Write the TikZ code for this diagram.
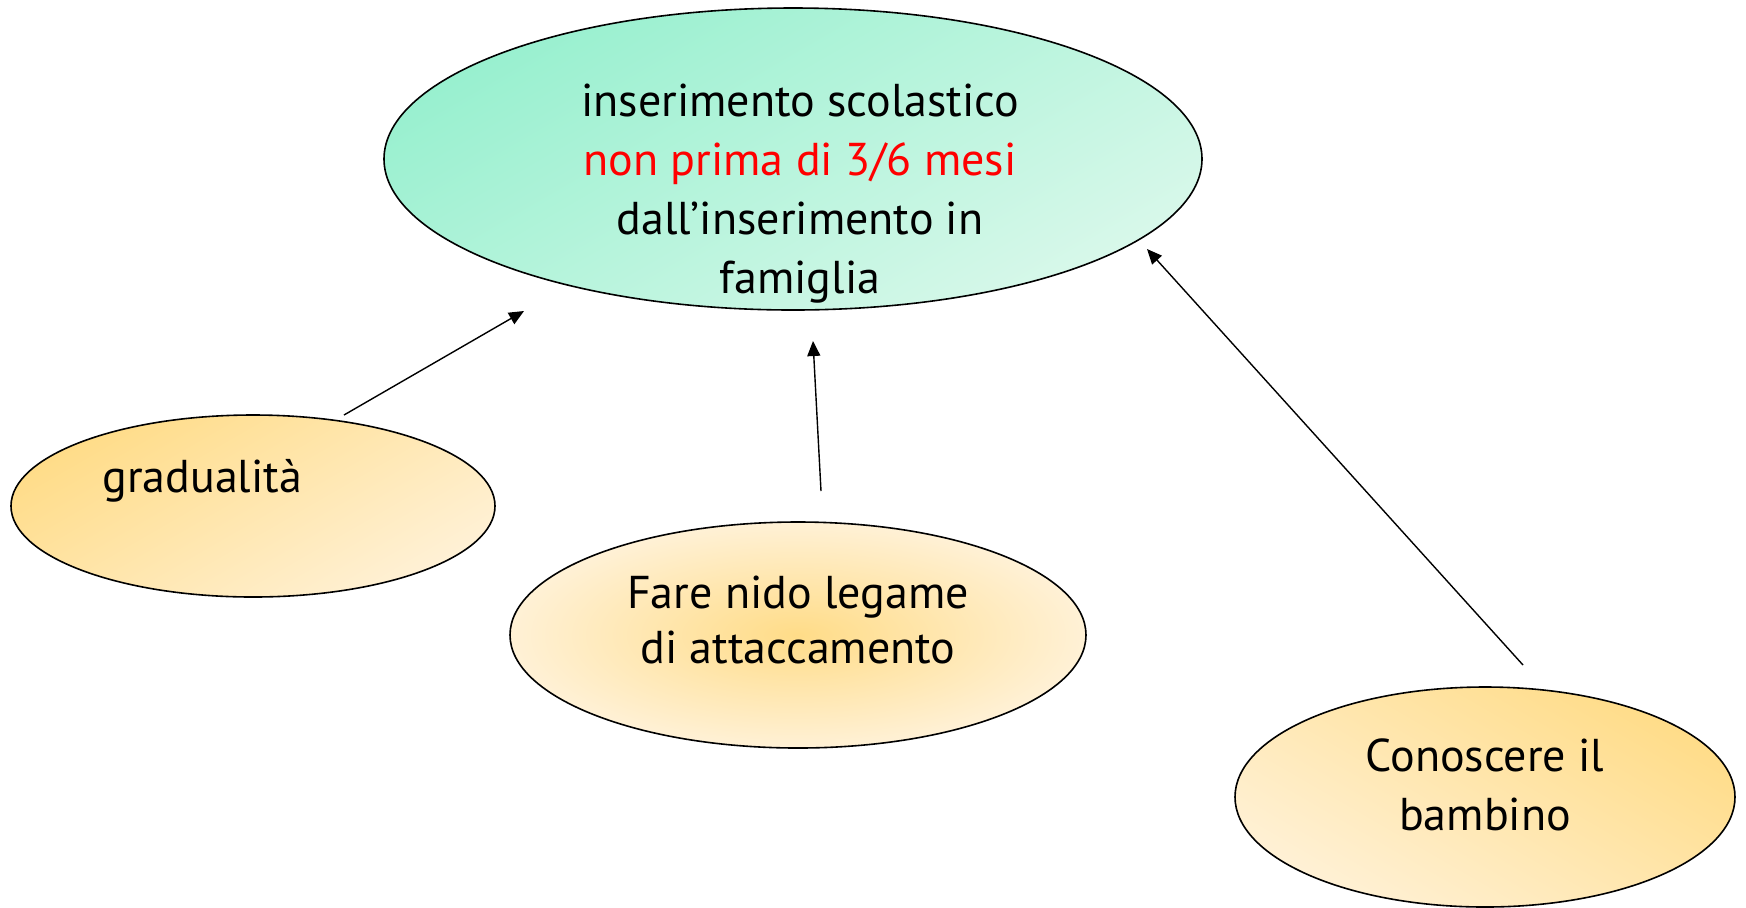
\documentclass[tikz,border=0pt]{standalone}
\usepackage{fontspec}
\setmainfont{PT Sans}
\usetikzlibrary{shapes.geometric,arrows.meta}
\definecolor{mintA}{HTML}{98F0CF}
\definecolor{mintB}{HTML}{D8F8EA}
\definecolor{goldA}{HTML}{FFDC88}
\definecolor{goldB}{HTML}{FFF1D6}
\definecolor{redtxt}{HTML}{FF0000}
\tikzset{
  bubble/.style={ellipse, draw=black, line width=0.8pt, inner sep=0pt},
  txt/.style={align=center, font=\fontsize{23}{29.5}\selectfont, inner sep=0pt},
  link/.style={draw=black, line width=0.7pt, -{Triangle[length=7.5pt,width=6.5pt]}}
}
\begin{document}
\begin{tikzpicture}[x=0.5pt,y=-0.5pt]
\useasboundingbox (0,0) rectangle (1746,907);
\node[bubble, minimum width=409pt, minimum height=151pt, left color=mintA, right color=mintB, shading angle=30] (top) at (793,159) {};
\node[bubble, minimum width=242pt, minimum height=91pt, left color=goldA, right color=goldB, shading angle=30] (grad) at (253,506) {};
\node[bubble, minimum width=288pt, minimum height=113pt, inner color=goldA, outer color=goldB] (nido) at (798,635) {};
\node[bubble, minimum width=250pt, minimum height=110pt, left color=goldA, right color=goldB, shading angle=-30] (bamb) at (1485,797) {};
\node[txt, anchor=north] (toptxt) at (800,84) {inserimento scolastico\\\textcolor{redtxt}{non prima di 3/6 mesi}\\dall’inserimento in\\famiglia};
\node[txt, anchor=base west] (gradtxt) at (102,492) {gradualità};
\node[txt, font=\fontsize{23}{27.5}\selectfont] (nidotxt) at (798,620) {Fare nido legame\\di attaccamento};
\node[txt] (bambtxt) at (1485,785) {Conoscere il\\bambino};
\coordinate (a1s) at (344,415); \coordinate (a1e) at (524,311);
\coordinate (a2s) at (821,491); \coordinate (a2e) at (813,341);
\coordinate (a3s) at (1523,665); \coordinate (a3e) at (1147,249);
\draw[link] (a1s) -- (a1e);
\draw[link] (a2s) -- (a2e);
\draw[link] (a3s) -- (a3e);
\end{tikzpicture}
\end{document}
